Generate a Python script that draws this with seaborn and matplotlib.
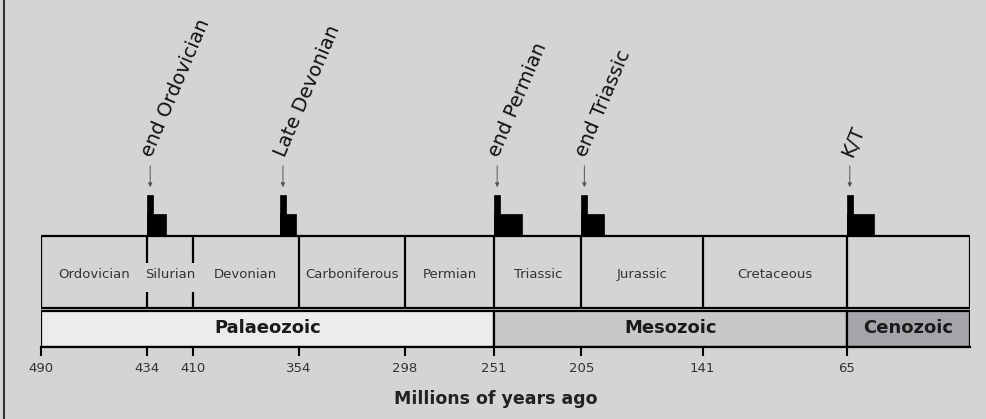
import matplotlib
matplotlib.use("Agg")
import matplotlib.pyplot as plt
from matplotlib.lines import Line2D
import seaborn as sns

# geological periods (start, end in Ma)
periods = ['Ordovician', 'Silurian', 'Devonian', 'Carboniferous', 'Permian',
           'Triassic', 'Jurassic', 'Cretaceous', '']
period_start = [490, 434, 410, 354, 298, 251, 205, 141, 65]
period_end = [434, 410, 354, 298, 251, 205, 141, 65, 0]

# eras
eras = ['Palaeozoic', 'Mesozoic', 'Cenozoic']
era_start = [490, 251, 65]
era_end = [251, 65, 0]
era_colors = ['#ececec', '#c8c8c9', '#a3a5a9']

# mass extinctions
events = ['end Ordovician', 'Late Devonian', 'end Permian', 'end Triassic', 'K/T']
event_age = [434, 364, 251, 205, 65]
peak_width = [3.2, 3.2, 3.2, 3.2, 3.2]
tail_width = [9.7, 8.5, 14.7, 11.7, 14.5]

tick_ages = [490, 434, 410, 354, 298, 251, 205, 141, 65]

sns.set_theme(style="white")
plt.rcParams['font.family'] = ['DejaVu Sans']
bg = '#d3d4d6'

fig = plt.figure(figsize=(9.87, 4.19), dpi=100, facecolor=bg)
ax = fig.add_axes([41 / 987, 72 / 419, 929 / 987, 347 / 419])
ax.set_facecolor(bg)
ax.set_xlim(490, 0)
ax.set_ylim(0, 347)

# era bar
ax.barh([0] * len(eras), [s - e for s, e in zip(era_start, era_end)], left=era_end,
        height=36, align='edge', color=era_colors, edgecolor='black', linewidth=1.6, zorder=2)
for name, s, e in zip(eras, era_start, era_end):
    ax.text((s + e) / 2, 19, name, ha='center', va='center', fontsize=13,
            fontweight='bold', color='#1a1a1a', zorder=3)

# period box
ax.barh([39], [490], left=[0], height=72, align='edge', color='none',
        edgecolor='black', linewidth=1.6, zorder=2)
for b in period_start[1:]:
    if b in (434, 410):
        ax.vlines(b, 84, 111, color='black', linewidth=1.6, zorder=2)
        ax.vlines(b, 39, 55, color='black', linewidth=1.6, zorder=2)
    else:
        ax.vlines(b, 39, 111, color='black', linewidth=1.6, zorder=2)
for name, s, e in zip(periods, period_start, period_end):
    ax.text((s + e) / 2, 73, name, ha='center', va='center', fontsize=9.5, color='#333333')

# extinction spikes
ax.bar(event_age, [22] * 5, width=[-t for t in tail_width],
       bottom=111, align='edge', color='black', edgecolor='black', linewidth=0.5, zorder=3)
ax.bar(event_age, [41] * 5, width=[-p for p in peak_width],
       bottom=111, align='edge', color='black', edgecolor='black', linewidth=0.5, zorder=3)
for name, age, p in zip(events, event_age, peak_width):
    ax.annotate('', xy=(age - p / 2, 157), xytext=(age - p / 2, 184),
                arrowprops=dict(arrowstyle='-|>', color='#555555', lw=0.7, mutation_scale=6))
    ax.text(age, 191, name, rotation=67, rotation_mode='anchor', ha='left', va='center',
            fontsize=14, color='#111111', clip_on=False)

# axis
sns.despine(ax=ax, left=True, top=True, right=True)
ax.spines['bottom'].set_linewidth(1.6)
ax.spines['bottom'].set_color('black')
ax.set_yticks([])
ax.set_xticks(tick_ages)
ax.set_xticklabels([str(t) for t in tick_ages])
ax.tick_params(axis='x', bottom=True, direction='out', length=6.5, width=1.5,
               color='black', pad=4, labelsize=9.5, labelcolor='#333333')
ax.set_xlabel('Millions of years ago', fontsize=12.5, fontweight='bold', color='#222222')
ax.xaxis.set_label_coords(0.49, -0.125)

# left frame line
fig.add_artist(Line2D([4 / 987, 4 / 987], [0, 1], color='#333333', linewidth=1.5))

fig.savefig('out.png', dpi=100, facecolor=bg)
